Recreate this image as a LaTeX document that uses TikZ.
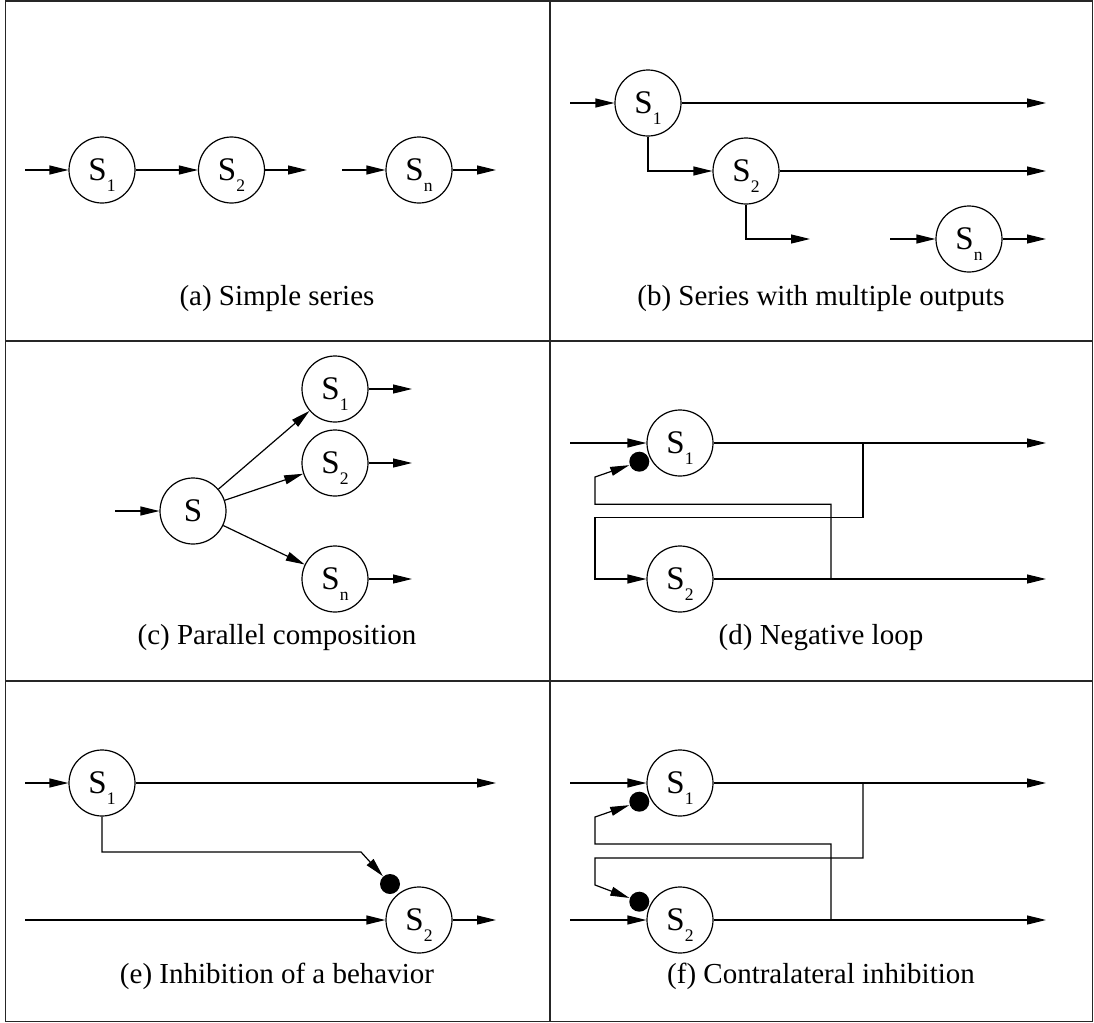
\documentclass[tikz,border=0pt]{standalone}
\usepackage{fontspec}
\setmainfont{Liberation Serif}
\usetikzlibrary{arrows.meta}
\newcommand\lowsub[1]{\smash{\raisebox{-0.32em}{\fontsize{8.8}{10}\selectfont #1}}}
\begin{document}
\begin{tikzpicture}[x=0.5pt,y=-0.5pt,line width=0.6pt,
    >={Triangle[length=9.5pt,width=4.5pt]},
    unit/.style={draw,circle,minimum size=33pt,inner sep=0pt,font=\fontsize{16.5}{18}\selectfont},
    inhib/.style={circle,fill,minimum size=10pt,inner sep=0pt},
    panel/.style={anchor=base,font=\fontsize{14.5}{17}\selectfont},
    frame/.style={draw=black!85,line width=0.9pt}]
    \useasboundingbox (0,0) rectangle (1094,1023);
    \draw[frame] (5.5,1) rectangle (1092.5,1021.5);
    \draw[frame] (550,1) -- (550,1021.5);
    \draw[frame] (5.5,341) -- (1092.5,341);
    \draw[frame] (5.5,681) -- (1092.5,681);

    \node[unit] (a1) at (102,170) {S\lowsub{1}};
    \node[unit] (a2) at (231.5,170) {S\lowsub{2}};
    \node[unit] (an) at (419,170) {S\lowsub{n}};
    \coordinate (ain) at (25,170);
    \coordinate (aout2) at (307,170);
    \coordinate (ainn) at (342,170);
    \coordinate (aoutn) at (496,170);
    \draw[->] (ain) -- (a1);
    \draw[->] (a1) -- (a2);
    \draw[->] (a2) -- (aout2);
    \draw[->] (ainn) -- (an);
    \draw[->] (an) -- (aoutn);
    \node[panel] (acap) at (277,305) {(a) Simple series};

    \node[unit] (b1) at (648,103) {S\lowsub{1}};
    \node[unit] (b2) at (746,171) {S\lowsub{2}};
    \node[unit] (bn) at (969,239) {S\lowsub{n}};
    \coordinate (bin) at (570,103);
    \coordinate (bout1) at (1046,103);
    \coordinate (bout2) at (1046,171);
    \coordinate (bend) at (810,239);
    \coordinate (binn) at (890,239);
    \coordinate (boutn) at (1046,239);
    \draw[->] (bin) -- (b1);
    \draw[->] (b1) -- (bout1);
    \draw[->] (b1) |- (b2);
    \draw[->] (b2) -- (bout2);
    \draw[->] (b2) |- (bend);
    \draw[->] (binn) -- (bn);
    \draw[->] (bn) -- (boutn);
    \node[panel] (bcap) at (821,305) {(b) Series with multiple outputs};

    \node[unit] (c0) at (193,511) {S};
    \node[unit] (c1) at (335,389) {S\lowsub{1}};
    \node[unit] (c2) at (335,463) {S\lowsub{2}};
    \node[unit] (cn) at (335,579) {S\lowsub{n}};
    \coordinate (cin) at (115,511);
    \coordinate (cout1) at (412,389);
    \coordinate (cout2) at (412,463);
    \coordinate (coutn) at (412,579);
    \draw[->] (cin) -- (c0);
    \draw[->] (c0) -- (c1);
    \draw[->] (c0) -- (c2);
    \draw[->] (c0) -- (cn);
    \draw[->] (c1) -- (cout1);
    \draw[->] (c2) -- (cout2);
    \draw[->] (cn) -- (coutn);
    \node[panel] (ccap) at (277,644) {(c) Parallel composition};

    \node[unit] (d1) at (680,443) {S\lowsub{1}};
    \node[unit] (d2) at (680,579) {S\lowsub{2}};
    \node[inhib] (dinh) at (639.3,461.7) {};
    \coordinate (din) at (570,443);
    \coordinate (dout1) at (1046,443);
    \coordinate (dout2) at (1046,579);
    \coordinate (dtap1) at (863,443);
    \coordinate (dtap2) at (831,579);
    \coordinate (dturn1) at (595,517.7);
    \coordinate (dturn2) at (595,504.3);
    \coordinate (dturn3) at (595,477);
    \draw[->] (din) -- (d1);
    \draw[->] (d1) -- (dout1);
    \draw[->] (d2) -- (dout2);
    \draw[->] (dtap1) |- (dturn1) |- (d2);
    \draw[->] (dtap2) |- (dturn2) -- (dturn3) -- (dinh);
    \node[panel] (dcap) at (821,644) {(d) Negative loop};

    \node[unit] (e1) at (102,783) {S\lowsub{1}};
    \node[unit] (e2) at (419,920) {S\lowsub{2}};
    \node[inhib] (einh) at (390,884) {};
    \coordinate (ein1) at (25,783);
    \coordinate (eout1) at (496,783);
    \coordinate (ein2) at (25,920);
    \coordinate (eout2) at (496,920);
    \coordinate (eturn) at (361,852);
    \draw[->] (ein1) -- (e1);
    \draw[->] (e1) -- (eout1);
    \draw[->] (ein2) -- (e2);
    \draw[->] (e2) -- (eout2);
    \draw[->] (e1) |- (eturn) -- (einh);
    \node[panel] (ecap) at (277,983) {(e) Inhibition of a behavior};

    \node[unit] (f1) at (680,783) {S\lowsub{1}};
    \node[unit] (f2) at (680,920) {S\lowsub{2}};
    \node[inhib] (finh1) at (639.3,801.7) {};
    \node[inhib] (finh2) at (639.3,901.7) {};
    \coordinate (fin1) at (570,783);
    \coordinate (fin2) at (570,920);
    \coordinate (fout1) at (1046,783);
    \coordinate (fout2) at (1046,920);
    \coordinate (ftap1) at (863,783);
    \coordinate (ftap2) at (831,920);
    \coordinate (fturn1) at (595,858);
    \coordinate (fturn2) at (595,885);
    \coordinate (fturn3) at (595,844);
    \coordinate (fturn4) at (595,817);
    \draw[->] (fin1) -- (f1);
    \draw[->] (fin2) -- (f2);
    \draw[->] (f1) -- (fout1);
    \draw[->] (f2) -- (fout2);
    \draw[->] (ftap1) |- (fturn1) -- (fturn2) -- (finh2);
    \draw[->] (ftap2) |- (fturn3) -- (fturn4) -- (finh1);
    \node[panel] (fcap) at (821,983) {(f) Contralateral inhibition};
\end{tikzpicture}
\end{document}
